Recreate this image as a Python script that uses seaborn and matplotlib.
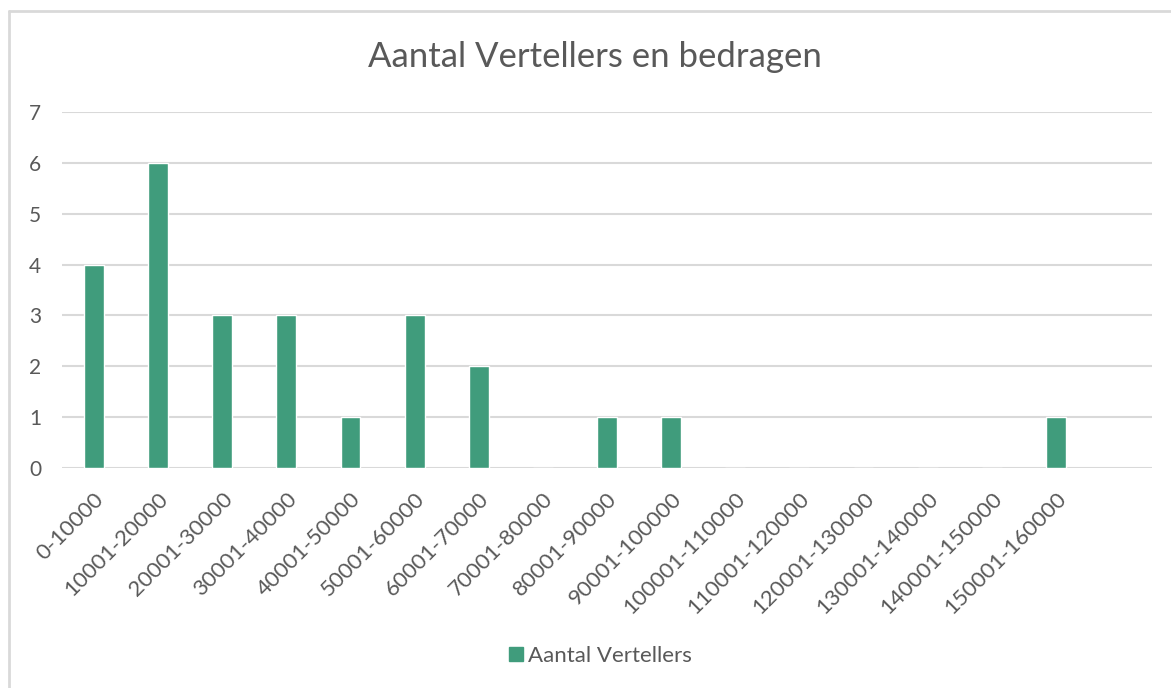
import seaborn as sns
import matplotlib.pyplot as plt
from matplotlib.lines import Line2D

categories = ["0-10000", "10001-20000", "20001-30000", "30001-40000", "40001-50000",
              "50001-60000", "60001-70000", "70001-80000", "80001-90000", "90001-100000",
              "100001-110000", "110001-120000", "120001-130000", "130001-140000",
              "140001-150000", "150001-160000"]
vertellers = [4, 6, 3, 3, 1, 3, 2, 0, 1, 1, 0, 0, 0, 0, 0, 1]

bar_color = "#409C7C"
text_color = "#595959"

sns.set_style("white")
plt.rcParams['font.family'] = ['Lato', 'DejaVu Sans']

fig = plt.figure(figsize=(11.71, 6.88), dpi=100)
ax = fig.add_axes([0.0529, 0.3198, 0.9309, 0.5174])

sns.barplot(x=categories, y=vertellers, color=bar_color, saturation=1, width=0.31,
            label="Aantal Vertellers", legend=False, ax=ax)

ax.set_xlim(-0.5, len(categories) + 0.5)
ax.set_ylim(0, 7)
ax.set_yticks(range(0, 8))
ax.grid(axis='y', color='#d9d9d9', linewidth=1.5)
ax.set_axisbelow(True)
for s in ax.spines.values():
    s.set_visible(False)
ax.tick_params(axis='y', length=0, colors=text_color, labelsize=15, pad=15)
ax.tick_params(axis='x', length=0, colors=text_color, labelsize=16, pad=15)
plt.setp(ax.get_xticklabels(), rotation=45, ha='right', rotation_mode='anchor')
ax.set_xlabel("")
ax.set_ylabel("")

fig.text(0.508, 0.917, "Aantal Vertellers en bedragen", ha='center', va='center',
         fontsize=25, color=text_color)

handle = Line2D([], [], marker='s', linestyle='', color=bar_color, markersize=10)
fig.legend([handle], ["Aantal Vertellers"], loc='center', bbox_to_anchor=(0.512, 0.047),
           frameon=False, fontsize=16, labelcolor=text_color, handletextpad=0.15,
           handlelength=0.8)

# chart area border (top and left edges visible)
fig.add_artist(Line2D([0.0077, 0.0077], [0, 0.984], color='#d9d9d9', linewidth=2,
                      transform=fig.transFigure))
fig.add_artist(Line2D([0.0077, 1], [0.984, 0.984], color='#d9d9d9', linewidth=2,
                      transform=fig.transFigure))

fig.savefig("out.png", dpi=100)
